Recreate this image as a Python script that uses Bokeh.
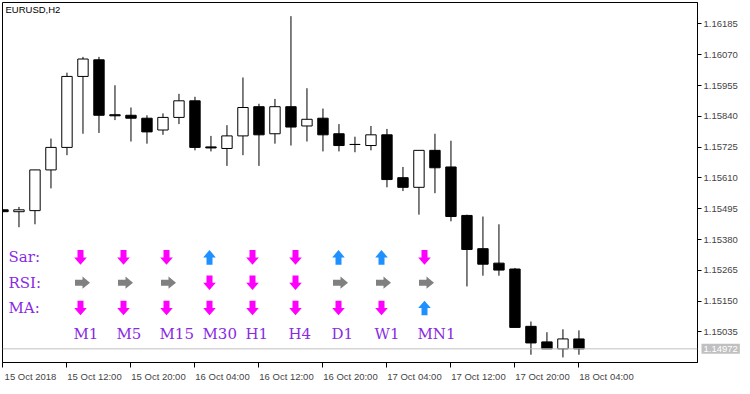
from bokeh.plotting import figure
from bokeh.models import Range1d, FixedTicker, PrintfTickFormatter, Span, Label
from bokeh.embed import file_html
from bokeh.resources import INLINE
from bokeh.core.properties import value

# ---------------- data (EURUSD, H2) ----------------
opens = [1.15491, 1.15484, 1.15488, 1.15640, 1.15724, 1.15989, 1.16051, 1.15846, 1.15844, 1.15833,
         1.15789, 1.15836, 1.15898, 1.15726, 1.15720, 1.15767, 1.15876, 1.15775, 1.15876, 1.15804,
         1.15833, 1.15775, 1.15735, 1.15731, 1.15771, 1.15611, 1.15575, 1.15713, 1.15651, 1.15470,
         1.15346, 1.15292, 1.15270, 1.15056, 1.14998, 1.14972, 1.15009]
highs = [1.15491, 1.15502, 1.15640, 1.15757, 1.16003, 1.16062, 1.16062, 1.15956, 1.15873, 1.15844,
         1.15851, 1.15924, 1.15913, 1.15767, 1.15807, 1.15985, 1.15887, 1.15905, 1.16214, 1.15945,
         1.15869, 1.15811, 1.15764, 1.15804, 1.15793, 1.15651, 1.15713, 1.15775, 1.15749, 1.15473,
         1.15466, 1.15437, 1.15274, 1.15074, 1.15034, 1.15045, 1.15041]
lows = [1.15484, 1.15426, 1.15437, 1.15571, 1.15695, 1.15775, 1.15778, 1.15826, 1.15746, 1.15738,
        1.15771, 1.15811, 1.15713, 1.15709, 1.15655, 1.15695, 1.15655, 1.15738, 1.15731, 1.15746,
        1.15709, 1.15709, 1.15706, 1.15713, 1.15575, 1.15561, 1.15473, 1.15553, 1.15448, 1.15205,
        1.15245, 1.15245, 1.15052, 1.14950, 1.14972, 1.14940, 1.14950]
closes = [1.15484, 1.15491, 1.15640, 1.15724, 1.15989, 1.16054, 1.15844, 1.15842, 1.15833, 1.15782,
          1.15836, 1.15898, 1.15724, 1.15722, 1.15767, 1.15873, 1.15771, 1.15876, 1.15800, 1.15829,
          1.15771, 1.15731, 1.15735, 1.15771, 1.15604, 1.15575, 1.15713, 1.15648, 1.15466, 1.15343,
          1.15288, 1.15266, 1.15052, 1.14994, 1.14972, 1.15009, 1.14972]

x_tick_bars = [0, 4, 8, 12, 16, 20, 24, 28, 32, 36]
x_tick_labels = ["15 Oct 2018", "15 Oct 12:00", "15 Oct 20:00", "16 Oct 04:00", "16 Oct 12:00",
                 "16 Oct 20:00", "17 Oct 04:00", "17 Oct 12:00", "17 Oct 20:00", "18 Oct 04:00"]
y_ticks = [1.15035, 1.15150, 1.15265, 1.15380, 1.15495, 1.15610, 1.15725, 1.15840, 1.15955, 1.16070, 1.16185]
last_price = 1.14972
symbol_title = "EURUSD,H2"

timeframes = ["M1", "M5", "M15", "M30", "H1", "H4", "D1", "W1", "MN1"]
row_names = ["Sar:", "RSI:", "MA:"]
sar_signal = ["down", "down", "down", "up", "down", "down", "up", "up", "down"]
rsi_signal = ["right", "right", "right", "down", "down", "down", "right", "right", "right"]
ma_signal = ["down", "down", "down", "down", "down", "down", "down", "down", "up"]

# ---------------- layout / style constants ----------------
BAR_W = 0.65
LABEL_SHIFT = 1.72          # time labels start just right of their tick (in bars)
PURPLE = "#8a2be2"
SIG_COLORS = {"down": "#ff00ff", "up": "#1e90ff", "right": "#808080"}
AX_FONT = "Liberation Sans"

p = figure(width=750, height=394, output_backend="svg", toolbar_location=None,
           x_range=Range1d(-0.03, 43.41), y_range=Range1d(1.14921, 1.16265),
           y_axis_location="right", min_border_left=2, min_border_top=2,
           min_border_right=53, min_border_bottom=22)
# overlay coordinate system (chart-window pixels)
p.extra_x_ranges = {"px": Range1d(2, 697)}
p.extra_y_ranges = {"py": Range1d(372, 2)}

p.xgrid.visible = False
p.ygrid.visible = False
p.outline_line_color = "black"
p.outline_line_alpha = 1
p.background_fill_color = "white"
p.border_fill_color = "white"

# candles
idx = list(range(len(opens)))
tops = [max(o, c) for o, c in zip(opens, closes)]
bots = [min(o, c) for o, c in zip(opens, closes)]
fills = ["white" if c > o else "black" for o, c in zip(opens, closes)]
p.segment(x0=idx, y0=highs, x1=idx, y1=lows, line_color="black", line_width=1)
p.vbar(x=idx, width=BAR_W, top=tops, bottom=bots, fill_color=fills, line_color="black", line_width=1)

# current price line
p.add_layout(Span(location=last_price, dimension="width", line_color="#c0c0c0", line_width=1))

# title
p.add_layout(Label(x=5, y=4, x_range_name="px", y_range_name="py", text=symbol_title,
                   text_align="left", text_baseline="top", text_font=AX_FONT,
                   text_font_size="9.5px", text_color="black"))

# indicator panel
col_x = [80 + 43 * i for i in range(len(timeframes))]
row_y = [264 + 26 * r for r in range(len(row_names))]
p.text(x=[8] * len(row_names), y=row_y, text=row_names, x_range_name="px", y_range_name="py",
       text_font=value("DejaVu Serif"), text_font_size="15px", text_color=PURPLE,
       text_align="left", text_baseline="middle")
p.text(x=[c - 7 for c in col_x], y=[343] * len(timeframes), text=timeframes,
       x_range_name="px", y_range_name="py", text_font=value("DejaVu Serif"),
       text_font_size="15px", text_color=PURPLE, text_align="left", text_baseline="middle")

SHAPE_DOWN = [(-3, -7.5), (3, -7.5), (3, 0), (6.3, 0), (0, 7.5), (-6.3, 0), (-3, 0)]
def arrow(kind, cx, cy):
    pts = SHAPE_DOWN
    if kind == "up":
        pts = [(dx, -dy) for dx, dy in SHAPE_DOWN]
    elif kind == "right":
        pts = [(dy, -dx) for dx, dy in SHAPE_DOWN]
        cx += 2
    return [cx + dx for dx, dy in pts], [cy + dy for dx, dy in pts]

axs, ays, acol = [], [], []
for r, row in enumerate([sar_signal, rsi_signal, ma_signal]):
    for c, kind in enumerate(row):
        xs, ys = arrow(kind, col_x[c], row_y[r])
        axs.append(xs); ays.append(ys); acol.append(SIG_COLORS[kind])
p.patches(xs=axs, ys=ays, fill_color=acol, line_color=None, x_range_name="px", y_range_name="py")

# axes: tick marks via minor ticks at bar positions, labels left-aligned after each tick
label_pos = [b + LABEL_SHIFT for b in x_tick_bars]
xa = p.xaxis[0]
xa.ticker = FixedTicker(ticks=label_pos, minor_ticks=x_tick_bars)
xa.major_label_overrides = {lp: lab for lp, lab in zip(label_pos, x_tick_labels)}
xa.major_tick_out = 0
xa.major_tick_in = 0
xa.minor_tick_out = 5
xa.minor_tick_in = 0
xa.minor_tick_line_color = "black"
xa.axis_line_color = "black"
xa.major_label_text_font = AX_FONT
xa.major_label_text_font_size = "9.5px"
xa.major_label_standoff = 3

ya = p.yaxis[0]
ya.ticker = FixedTicker(ticks=y_ticks, minor_ticks=[])
ya.formatter = PrintfTickFormatter(format="%.5f")
ya.major_tick_out = 4
ya.major_tick_in = 0
ya.minor_tick_out = 0
ya.axis_line_color = "black"
ya.major_label_text_font = AX_FONT
ya.major_label_text_font_size = "9.5px"
ya.major_label_standoff = 2

# current-price tag in the price-scale area (side panel, so it is not clipped to the frame)
p.add_layout(Label(x=701, x_units="canvas", y=last_price, text=f"{last_price:.5f}",
                   text_align="left", text_baseline="middle", text_color="white",
                   text_font=AX_FONT, text_font_size="9.5px", padding=2,
                   background_fill_color="#c0c0c0"), "below")

open("out.html", "w").write(file_html(p, INLINE))
